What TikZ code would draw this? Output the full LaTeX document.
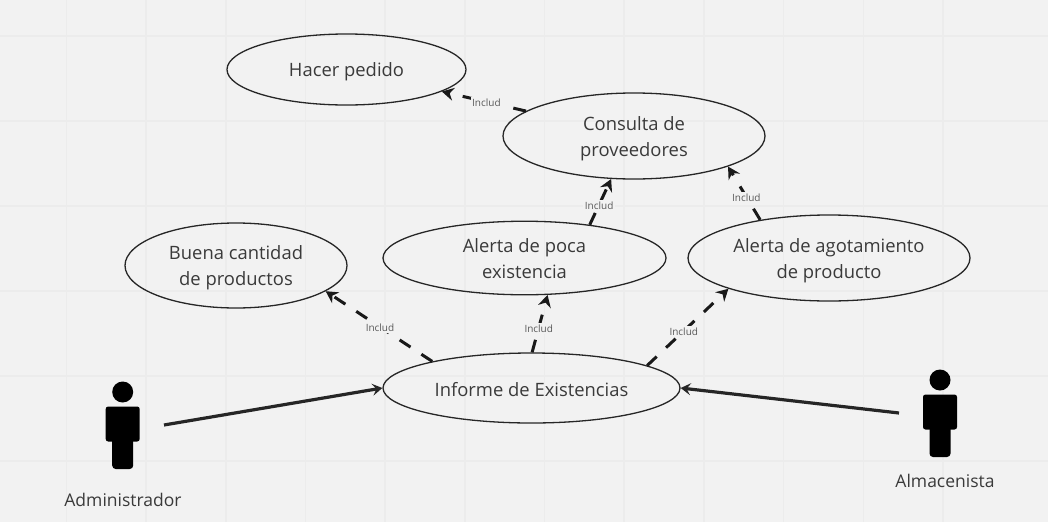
\documentclass[tikz,border=0pt]{standalone}
\usepackage{fontspec}
\setmainfont{Open Sans}
\usetikzlibrary{shapes.geometric,arrows.meta}
\definecolor{bgc}{HTML}{F2F2F2}
\definecolor{gridc}{HTML}{ECECEC}
\definecolor{txtc}{HTML}{3A3A3A}
\newcommand{\uctext}[2][-2.2pt]{\raisebox{#1}[\height][\depth]{\begin{tabular}{@{}c@{}}#2\end{tabular}}}
\tikzset{
  x=1pt,y=-1pt,
  usecase/.style={ellipse,draw=black!85,line width=1.3pt,inner sep=0pt,text=txtc,
    font=\fontsize{18.4}{26}\selectfont},
  inclarrow/.style={line width=3pt,draw=black!90,dash pattern=on 13pt off 13pt,
    -{Stealth[length=12pt,width=13pt,inset=4pt]}},
  assoc/.style={line width=3.2pt,draw=black!85,-{Stealth[length=10pt,width=12pt,inset=4pt]}},
  incllabel/.style={fill=bgc,inner sep=1.5pt,text=black!65,yshift=-0.8pt,font=\fontsize{10}{11}\selectfont},
  actorlabel/.style={text=txtc,inner sep=0pt,font=\fontsize{17.5}{20}\selectfont},
  actorfig/.pic={
    \fill[black] (0,-27) circle (10.5);
    \fill[black,rounded corners=2.5pt] (-17,-12.5) rectangle (17,22.5);
    \fill[black,rounded corners=3.5pt] (-10.5,15) rectangle (10.5,50);
  }
}
\begin{document}
\begin{tikzpicture}
\useasboundingbox (0,0) rectangle (1048,522);
\fill[bgc] (0,0) rectangle (1048,522);
\foreach \k in {0,...,12}{\draw[gridc,line width=1.6pt] ({-13.4+79.7*\k},0) -- ({-13.4+79.7*\k},522);}
\foreach \k in {0,...,5}{\draw[gridc,line width=1.6pt] (0,{36+85*\k}) -- (1048,{36+85*\k});}

\node[usecase,minimum width=239pt,minimum height=71pt] (hacer) at (346.5,69.5) {\uctext{Hacer pedido}};
\node[usecase,minimum width=262pt,minimum height=86pt] (consulta) at (634,136) {\uctext{Consulta de\\proveedores}};
\node[usecase,minimum width=222pt,minimum height=85pt] (buena) at (236,265.5) {\uctext{Buena cantidad\\de productos}};
\node[usecase,minimum width=283pt,minimum height=70pt] (poca) at (524.5,258) {\uctext{Alerta de poca\\existencia}};
\node[usecase,minimum width=282pt,minimum height=86pt] (agot) at (829,258) {\uctext{Alerta de agotamiento\\de producto}};
\node[usecase,minimum width=297pt,minimum height=70pt] (informe) at (531.5,388) {\uctext[-3.5pt]{Informe de Existencias}};

\draw[inclarrow] (informe.165.2) -- node[incllabel,pos=.49] (l1) {Includ} (buena.-16);
\draw[inclarrow] (informe.89) -- node[incllabel,pos=.43] (l2) {Includ} (poca.-58.4);
\draw[inclarrow] (informe.11.7) -- node[incllabel,pos=.45] (l3) {Includ} (agot.197.2);
\draw[inclarrow] (poca.27.1) -- node[incllabel,pos=.44] (l4) {Includ} (consulta.242.4);
\draw[inclarrow] (agot.151.5) -- node[incllabel,pos=.43] (l5) {Includ} (consulta.-18.4);
\draw[inclarrow] (consulta.167.6) -- node[incllabel,pos=.47] (l6) {Includ} (hacer.-13.4);

\pic at (122.7,419) {actorfig};
\pic at (940,407) {actorfig};
\node[actorlabel] (admin) at (123,500) {Administrador};
\node[actorlabel] (almacen) at (945,481) {Almacenista};
\coordinate (adminhand) at (164,425);
\coordinate (almhand) at (899,413);
\draw[assoc] (adminhand) -- (informe.west);
\draw[assoc] (almhand) -- (informe.east);
\end{tikzpicture}
\end{document}
